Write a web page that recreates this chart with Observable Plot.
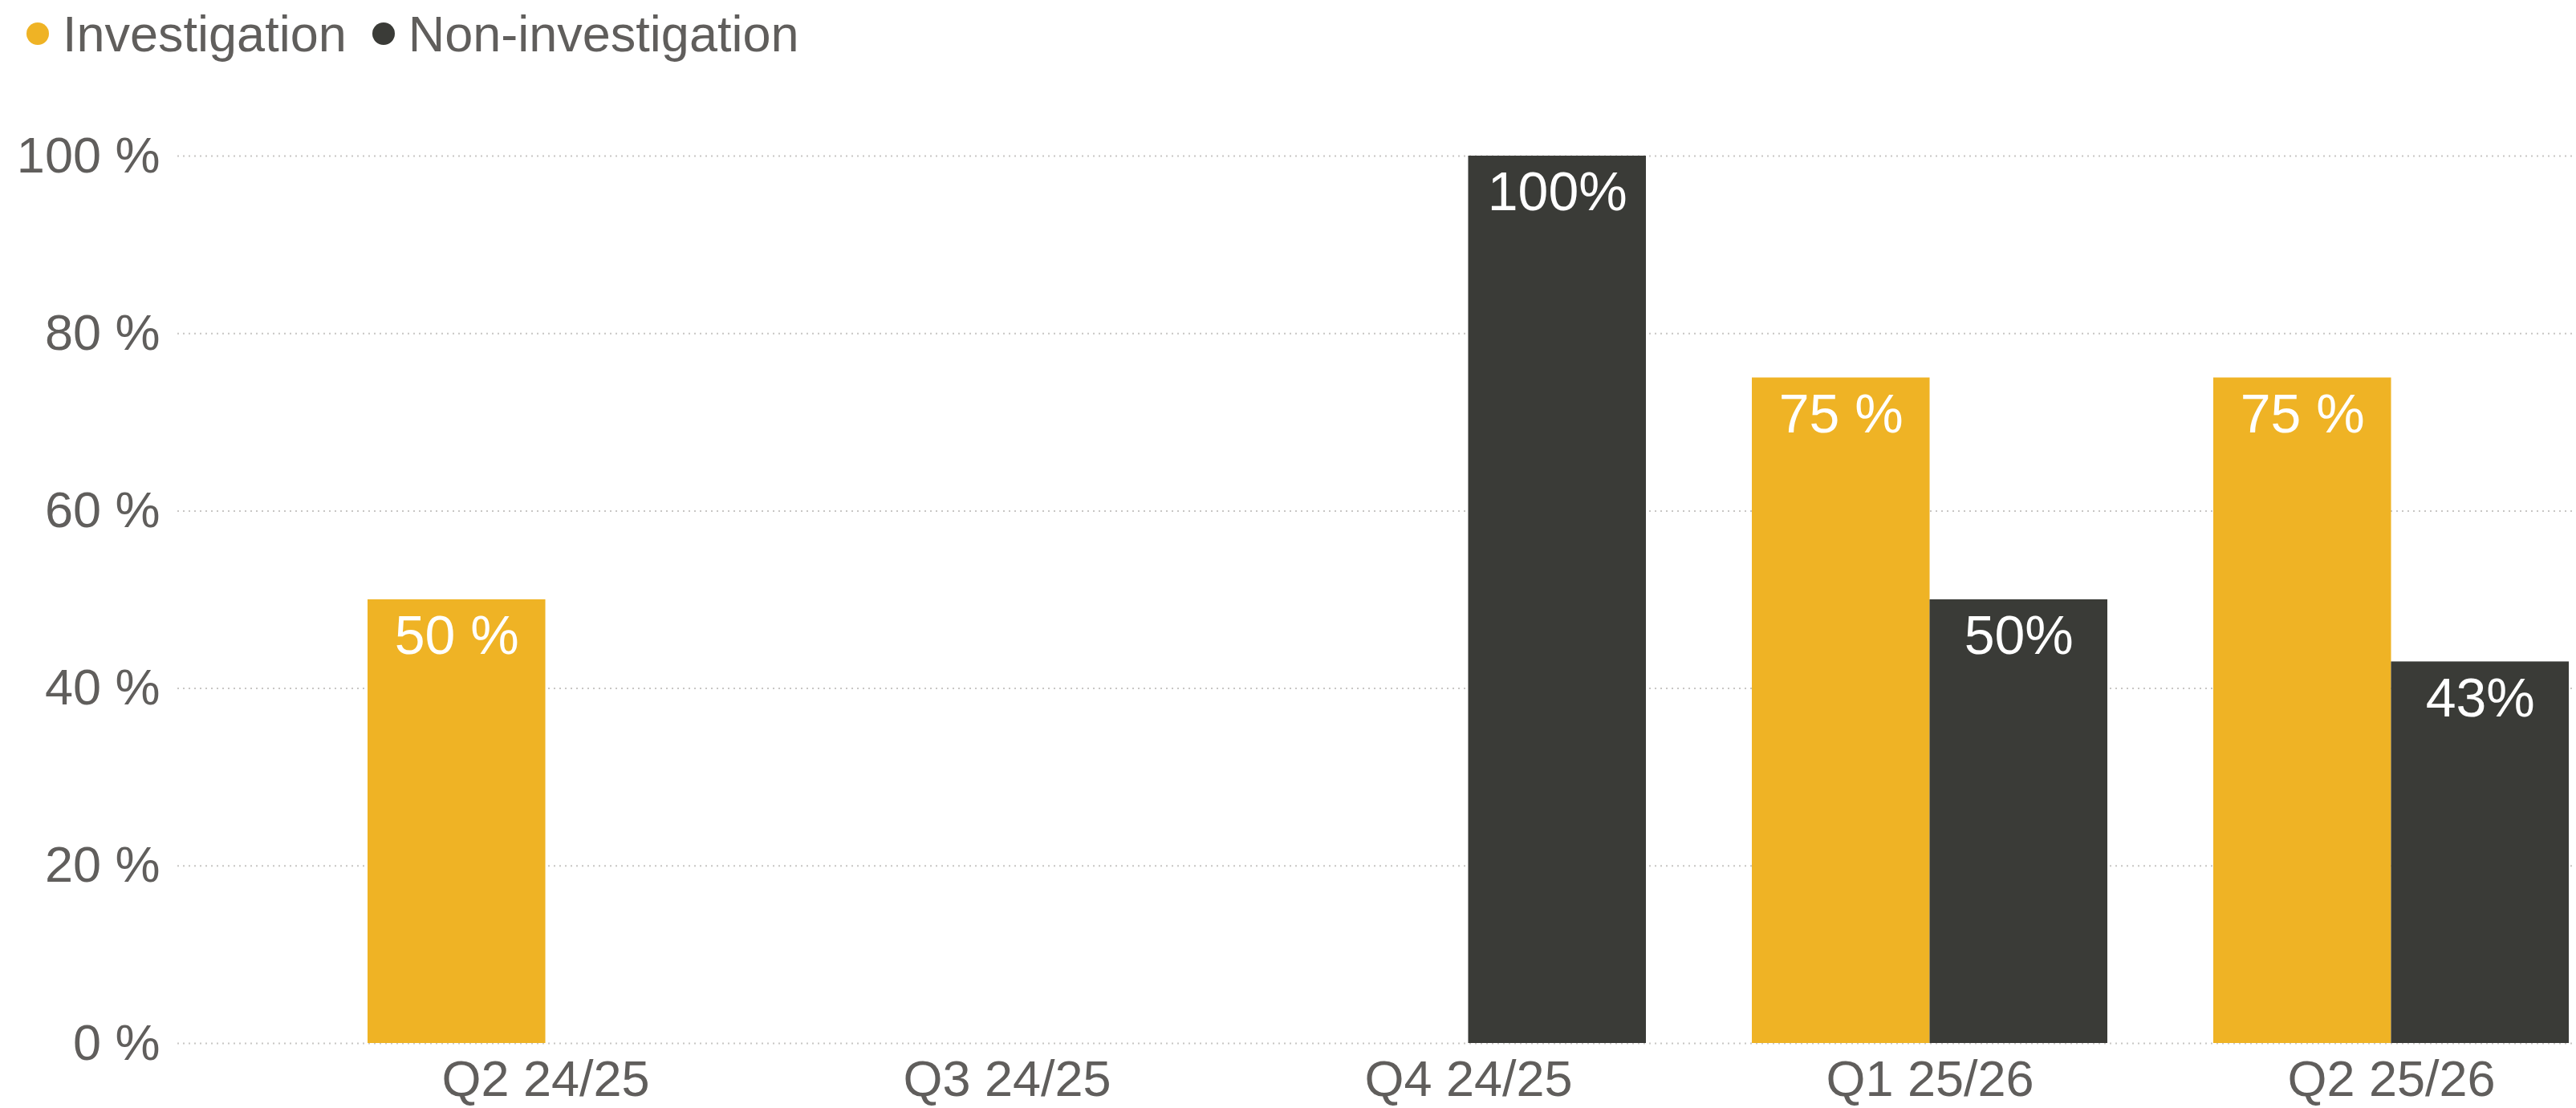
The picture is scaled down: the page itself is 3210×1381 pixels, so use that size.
<!DOCTYPE html>
<html>
<head>
<meta charset="utf-8">
<script src="https://cdn.jsdelivr.net/npm/d3@7"></script>
<script src="https://cdn.jsdelivr.net/npm/@observablehq/plot@0.6"></script>
<style>
  html, body { margin: 0; padding: 0; background: #fff; }
  body { width: 3210px; height: 1381px; position: relative; overflow: hidden; font-family: "Liberation Sans", Arial, sans-serif; }
  #legend { position: absolute; left: 33px; top: 0; height: 84px; display: flex; align-items: center; font-size: 63px; color: #605E5C; z-index: 2; }
  .item { display: flex; align-items: center; margin-right: 32px; }
  .dot { width: 28px; height: 28px; border-radius: 50%; margin-right: 17px; }
  #chart { position: absolute; left: 0; top: 0; }
</style>
</head>
<body>
<div id="legend"></div>
<div id="chart"></div>
<script>
const quarters = ["Q2 24/25", "Q3 24/25", "Q4 24/25", "Q1 25/26", "Q2 25/26"];
const seriesNames = ["Investigation", "Non-investigation"];
const investigation = [50, null, null, 75, 75];
const nonInvestigation = [null, null, 100, 50, 43];
const investigationLabels = ["50 %", "", "", "75 %", "75 %"];
const nonInvestigationLabels = ["", "", "100%", "50%", "43%"];
const yTicks = [0, 20, 40, 60, 80, 100];
const colors = ["#EFB325", "#3A3B37"];

const inv = quarters.map((q, i) => ({quarter: q, value: investigation[i], label: investigationLabels[i]})).filter(d => d.value != null);
const non = quarters.map((q, i) => ({quarter: q, value: nonInvestigation[i], label: nonInvestigationLabels[i]})).filter(d => d.value != null);

// legend
const legend = document.getElementById("legend");
seriesNames.forEach((name, i) => {
  const item = document.createElement("div");
  item.className = "item";
  const dot = document.createElement("span");
  dot.className = "dot";
  dot.style.background = colors[i];
  const txt = document.createElement("span");
  txt.textContent = name;
  item.appendChild(dot); item.appendChild(txt);
  legend.appendChild(item);
});

const W = 3210, H = 1381;
const xRange = [457, 3201];
const padInner = 0.23;
const step = (xRange[1] - xRange[0]) / (quarters.length - padInner);
const half = step * (1 - padInner) / 2;

const chart = Plot.plot({
  width: W,
  height: H,
  marginLeft: 221,
  marginRight: 0,
  marginTop: 194,
  marginBottom: 81,
  style: { background: "transparent", fontFamily: "Liberation Sans, Arial, sans-serif", color: "#605E5C", overflow: "visible" },
  x: { type: "band", domain: quarters, range: xRange, paddingInner: padInner, paddingOuter: 0, label: null },
  y: { domain: [0, 100], label: null },
  marks: [
    Plot.ruleY(yTicks, { stroke: "#C8C6C4", strokeWidth: 2, strokeDasharray: "2,5" }),
    Plot.barY(inv, { x: "quarter", y: "value", fill: colors[0], insetRight: half }),
    Plot.barY(non, { x: "quarter", y: "value", fill: colors[1], insetLeft: half }),
    Plot.text(inv, { x: "quarter", y: "value", text: "label", dx: -half / 2, dy: 46, fill: "#fff", fontSize: 68 }),
    Plot.text(non, { x: "quarter", y: "value", text: "label", dx: half / 2, dy: 46, fill: "#fff", fontSize: 68 }),
    Plot.axisY({ ticks: yTicks, tickSize: 0, tickPadding: 22, tickFormat: d => d + " %", fontSize: 63, fill: "#605E5C", label: null }),
    Plot.axisX({ tickSize: 0, tickPadding: 21, fontSize: 63, fill: "#605E5C", label: null })
  ]
});
document.getElementById("chart").appendChild(chart);
</script>
</body>
</html>
